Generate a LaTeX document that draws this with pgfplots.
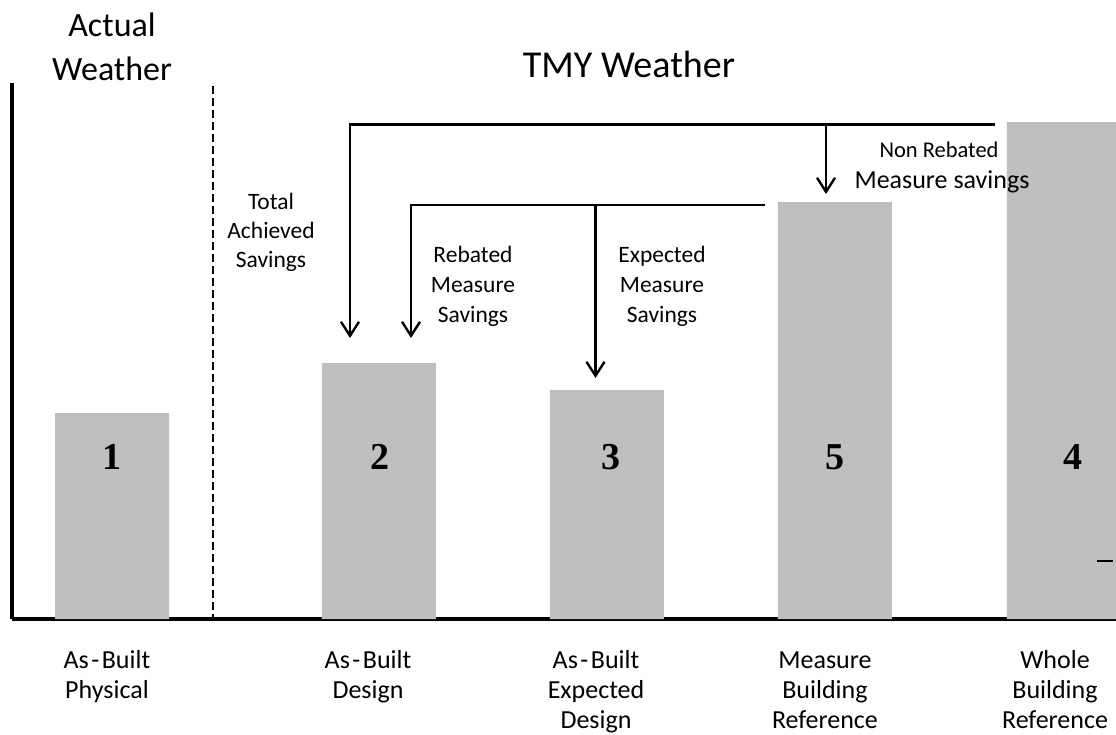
\documentclass[border=0pt]{standalone}
\usepackage{pgfplots}
\pgfplotsset{compat=1.18}
\usetikzlibrary{arrows.meta}
\usepackage{fontspec}
\setmainfont{Carlito}
\newfontfamily\numfont{Liberation Serif}
\definecolor{barg}{RGB}{191,191,191}
\newcommand{\fs}[2]{\fontsize{#1}{#2}\selectfont}
\newcommand{\AB}{As\kern2.5pt-\kern2.5pt Built}
\begin{document}
\begin{tikzpicture}
\begin{axis}[
  at={(12pt,-619pt)}, anchor=south west,
  scale only axis, width=1104pt, height=536pt,
  xmin=-0.4386, xmax=4.4035, ymin=0, ymax=5.36,
  axis x line=bottom, axis y line=left,
  axis line style={line width=4pt, -},
  ytick=\empty,
  xtick={-0.022,1.123,2.123,3.127,4.136},
  major tick length=0pt,
  xticklabels={
    {\begin{tabular}[t]{@{}c@{}}\AB\\Physical\end{tabular}},
    {\begin{tabular}[t]{@{}c@{}}\AB\\Design\end{tabular}},
    {\begin{tabular}[t]{@{}c@{}}\AB\\Expected\\Design\end{tabular}},
    {\begin{tabular}[t]{@{}c@{}}Measure\\Building\\Reference\end{tabular}},
    {\begin{tabular}[t]{@{}c@{}}Whole\\Building\\Reference\end{tabular}}},
  xticklabel style={anchor=base, inner sep=0pt, yshift=-49pt, font=\fs{26}{30}},
  clip mode=individual,
  ybar, bar width=0.5,
]
\addplot[fill=barg, draw=none] coordinates {(0,2.06) (1.171,2.56) (2.171,2.29) (3.171,4.17) (4.175,4.97)};
\end{axis}
\begin{scope}[x=1pt,y=-1pt]
% dashed separator
\draw[line width=2pt, dash pattern=on 8pt off 4pt] (212.5,86) -- (212.5,617);
% brackets and arrows
\begin{scope}[line width=2.6pt, line join=miter, -{Straight Barb[length=14pt,width=18pt,line width=2.4pt]}]
\draw (995,124.5) -- (350,124.5) -- (350,338);
\draw (826,124.5) -- (826,194);
\draw (765,205) -- (411,205) -- (411,338);
\draw (595.5,205) -- (595.5,378);
\end{scope}
% headings
\node[anchor=base, font=\fs{34}{44}, inner sep=0pt] at (112,36) {Actual};
\node[anchor=base, font=\fs{34}{44}, inner sep=0pt] at (112,80) {Weather};
\node[anchor=base, font=\fs{38}{44}, inner sep=0pt] at (629,77) {TMY Weather};
% annotations
\node[anchor=base, font=\fs{23.5}{29}, inner sep=0pt] at (271,209) {\begin{tabular}[t]{@{}c@{}}Total\\Achieved\\Savings\end{tabular}};
\node[anchor=base, font=\fs{23.5}{30}, inner sep=0pt] at (473,262) {\begin{tabular}[t]{@{}c@{}}Rebated\\Measure\\Savings\end{tabular}};
\node[anchor=base, font=\fs{23.5}{30}, inner sep=0pt] at (662,262) {\begin{tabular}[t]{@{}c@{}}Expected\\Measure\\Savings\end{tabular}};
\node[anchor=base, font=\fs{22.5}{28}, inner sep=0pt] at (939,157) {Non Rebated};
\node[anchor=base, font=\fs{26}{30}, inner sep=0pt] at (942,188) {Measure savings};
% bar numbers
\begin{scope}[every node/.style={anchor=base, inner sep=0pt, font=\numfont\bfseries\fs{38}{40}}]
\node at (112,469) {1};
\node at (380,469) {2};
\node at (611,469) {3};
\node at (835,469) {5};
\node at (1073,469) {4};
\end{scope}
\draw[line width=1.5pt] (1097,561) -- (1113,561);
\end{scope}
\pgfresetboundingbox
\useasboundingbox (0pt,0pt) rectangle (1116pt,-734pt);
\end{tikzpicture}
\end{document}
